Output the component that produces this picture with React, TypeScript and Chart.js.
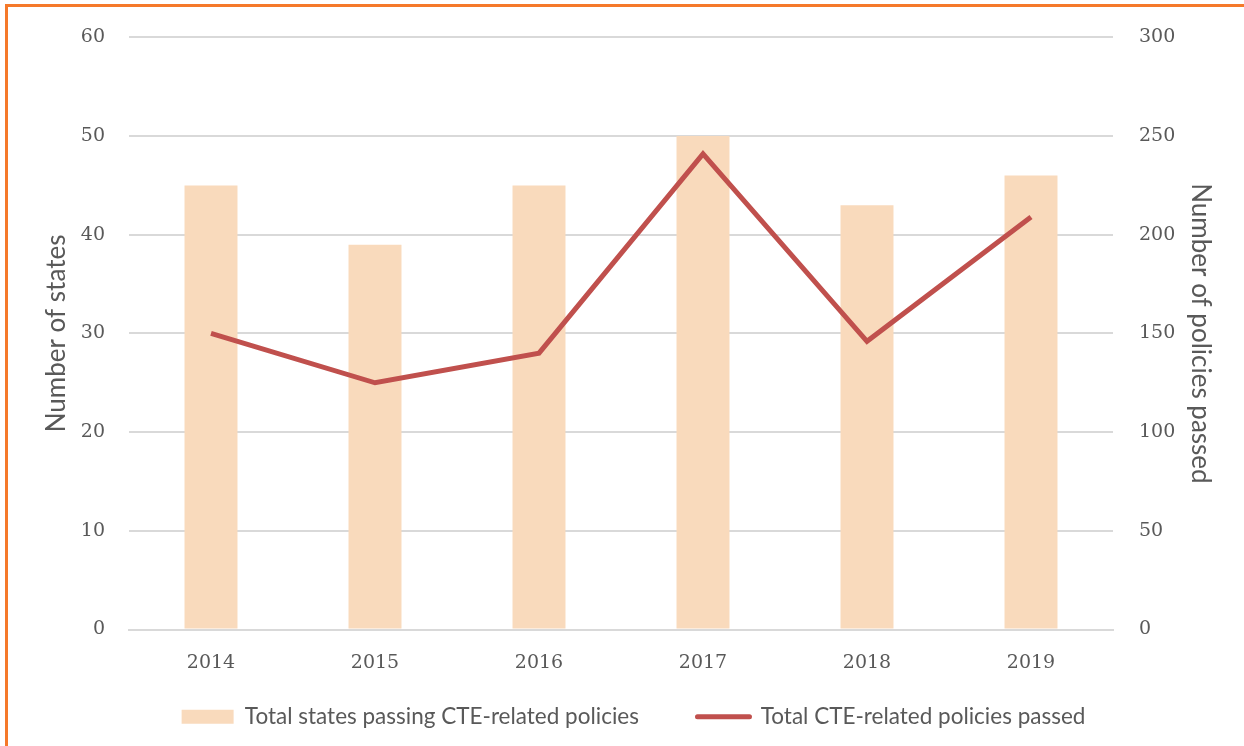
import React, { useEffect, useRef } from "react";
import { Chart, registerables } from "chart.js";

Chart.register(...registerables);

const years = ["2014", "2015", "2016", "2017", "2018", "2019"];
const statesPassing = [45, 39, 45, 50, 43, 46];
const policiesPassed = [150, 125, 140, 241, 146, 209];
const leftTicks = [0, 10, 20, 30, 40, 50, 60];
const rightTicks = [0, 50, 100, 150, 200, 250, 300];

const barLabel = "Total states passing CTE-related policies";
const lineLabel = "Total CTE-related policies passed";

const BAR_COLOR = "#F9DABC";
const LINE_COLOR = "#C0504D";
const TEXT = "#595959";
const GRID = "#D9D9D9";
const TICK_FONT = { family: "'DejaVu Serif', serif", size: 19 };
const SANS = "Lato, 'Open Sans', sans-serif";
const GAP1 = "\u00a0".repeat(6);

export default function App() {
  const ref = useRef<HTMLCanvasElement | null>(null);

  useEffect(() => {
    document.body.style.margin = "0";
    const ctx = ref.current!;
    const chart = new Chart(ctx, {
      data: {
        labels: years,
        datasets: [
          {
            type: "line",
            label: lineLabel,
            data: policiesPassed,
            borderColor: LINE_COLOR,
            backgroundColor: LINE_COLOR,
            borderWidth: 5,
            pointRadius: 0,
            tension: 0,
            yAxisID: "y1",
            order: 0,
          },
          {
            type: "bar",
            label: barLabel,
            data: statesPassing,
            backgroundColor: BAR_COLOR,
            barPercentage: 0.323,
            categoryPercentage: 1,
            yAxisID: "y",
            order: 1,
          },
        ],
      },
      options: {
        responsive: false,
        animation: false,
        layout: { padding: { top: 16, left: 23, right: 0, bottom: 8 } },
        plugins: {
          tooltip: { enabled: false },
          legend: {
            position: "bottom",
            labels: {
              usePointStyle: true,
              pointStyleWidth: 52,
              boxHeight: 14,
              padding: 24,
              color: TEXT,
              font: { family: SANS, size: 22.5 },
              generateLabels: () => [
                {
                  text: barLabel + GAP1,
                  pointStyle: "rect",
                  fillStyle: BAR_COLOR,
                  strokeStyle: BAR_COLOR,
                  lineWidth: 0,
                  fontColor: TEXT,
                  hidden: false,
                  datasetIndex: 1,
                },
                {
                  text: lineLabel,
                  pointStyle: "line",
                  fillStyle: LINE_COLOR,
                  strokeStyle: LINE_COLOR,
                  lineWidth: 5,
                  lineCap: "round",
                  fontColor: TEXT,
                  hidden: false,
                  datasetIndex: 0,
                },
              ],
            },
          },
        },
        scales: {
          x: {
            grid: { display: false, drawTicks: false },
            border: { color: GRID, width: 2 },
            ticks: { color: TEXT, font: TICK_FONT, padding: 22 },
            afterFit: (s: any) => {
              s.height = 52;
            },
          },
          y: {
            position: "left",
            min: 0,
            max: 60,
            afterBuildTicks: (s: any) => {
              s.ticks = leftTicks.map((v) => ({ value: v }));
            },
            grid: { color: GRID, lineWidth: 2, drawTicks: false },
            border: { display: false },
            ticks: { color: TEXT, font: TICK_FONT, padding: 24 },
            title: {
              display: true,
              text: "Number of states",
              color: TEXT,
              font: { family: SANS, size: 26 },
              padding: { top: 18, bottom: 0 },
            },
            afterFit: (s: any) => {
              s.width = 106;
            },
          },
          y1: {
            position: "right",
            min: 0,
            max: 300,
            afterBuildTicks: (s: any) => {
              s.ticks = rightTicks.map((v) => ({ value: v }));
            },
            grid: { display: false, drawTicks: false },
            border: { display: false },
            ticks: { color: TEXT, font: TICK_FONT, padding: 26 },
            title: {
              display: true,
              text: "Number of policies passed",
              color: TEXT,
              font: { family: SANS, size: 26 },
              padding: { top: 28, bottom: 0 },
            },
            afterFit: (s: any) => {
              s.width = 131;
            },
          },
        },
      },
    } as any);
    return () => chart.destroy();
  }, []);

  return (
    <div style={{ position: "relative", width: 1244, height: 746, overflow: "hidden" }}>
      <canvas ref={ref} width={1244} height={746} style={{ display: "block" }} />
      <div
        style={{
          position: "absolute",
          left: 5,
          top: 4,
          width: 1300,
          height: 800,
          borderTop: "3px solid #F5792A",
          borderLeft: "3px solid #F5792A",
          pointerEvents: "none",
        }}
      />
    </div>
  );
}
